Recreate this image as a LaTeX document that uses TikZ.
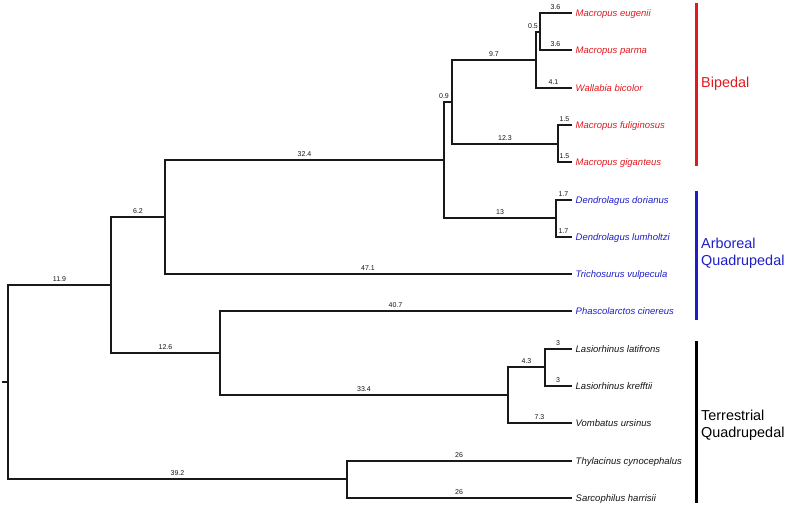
\documentclass[tikz,border=0pt]{standalone}
\usepackage{fontspec}
\setmainfont{Liberation Sans}
\definecolor{bred}{RGB}{225,25,30}
\definecolor{bblue}{RGB}{30,30,200}
\definecolor{tdark}{RGB}{20,20,20}
\tikzset{
  br/.style={line width=2pt, black!90, line cap=rect},
  bl/.style={font=\fontsize{7}{8}\selectfont, text=tdark, inner sep=0.5pt, above=2pt},
  leaf/.style={anchor=base west, xshift=4.5pt, yshift=-3.4pt, inner sep=0pt, font=\fontsize{9.5}{11}\selectfont\itshape},
  grp/.style={anchor=west, align=left, inner sep=0pt, font=\fontsize{14.4}{17}\selectfont},
  bar/.style={line width=3pt}
}
\begin{document}
\begin{tikzpicture}[x=1pt,y=-1pt]
\useasboundingbox (0,0) rectangle (787,507);
% internal nodes
\coordinate (rs) at (3,382);
\coordinate (root) at (8,382);
\coordinate (A) at (111,285);
\coordinate (B) at (165,217);
\coordinate (C) at (444,160);
\coordinate (D) at (452,102);
\coordinate (E) at (536,60);
\coordinate (F) at (540,32);
\coordinate (G) at (558,144);
\coordinate (H) at (556,218);
\coordinate (K) at (220,353);
\coordinate (J) at (508,395);
\coordinate (I) at (545,367);
\coordinate (L) at (347,479);
% leaf tips
\coordinate (t1) at (571,13);
\coordinate (t2) at (571,50);
\coordinate (t3) at (571,88);
\coordinate (t4) at (571,125);
\coordinate (t5) at (571,162);
\coordinate (t6) at (571,200);
\coordinate (t7) at (571,237);
\coordinate (t8) at (571,274);
\coordinate (t9) at (571,311);
\coordinate (t10) at (571,349);
\coordinate (t11) at (571,386);
\coordinate (t12) at (571,423);
\coordinate (t13) at (571,461);
\coordinate (t14) at (571,498);
% leaf labels
\node[leaf, text=bred] (l1) at (t1) {Macropus eugenii};
\node[leaf, text=bred] (l2) at (t2) {Macropus parma};
\node[leaf, text=bred] (l3) at (t3) {Wallabia bicolor};
\node[leaf, text=bred] (l4) at (t4) {Macropus fuliginosus};
\node[leaf, text=bred] (l5) at (t5) {Macropus giganteus};
\node[leaf, text=bblue] (l6) at (t6) {Dendrolagus dorianus};
\node[leaf, text=bblue] (l7) at (t7) {Dendrolagus lumholtzi};
\node[leaf, text=bblue] (l8) at (t8) {Trichosurus vulpecula};
\node[leaf, text=bblue] (l9) at (t9) {Phascolarctos cinereus};
\node[leaf, text=tdark] (l10) at (t10) {Lasiorhinus latifrons};
\node[leaf, text=tdark] (l11) at (t11) {Lasiorhinus krefftii};
\node[leaf, text=tdark] (l12) at (t12) {Vombatus ursinus};
\node[leaf, text=tdark] (l13) at (t13) {Thylacinus cynocephalus};
\node[leaf, text=tdark] (l14) at (t14) {Sarcophilus harrisii};
% branches
\draw[br] (rs) -- (root);
\draw[br] (root) |- node[bl, pos=0.75] {11.9} (A);
\draw[br] (root) |- node[bl, pos=0.75] {39.2} (L);
\draw[br] (A) |- node[bl, pos=0.75] {6.2} (B);
\draw[br] (A) |- node[bl, pos=0.75] {12.6} (K);
\draw[br] (B) |- node[bl, pos=0.75] {32.4} (C);
\draw[br] (B) |- node[bl, pos=0.75] {47.1} (t8);
\draw[br] (C) |- node[bl, pos=0.75, xshift=-4pt] {0.9} (D);
\draw[br] (C) |- node[bl, pos=0.75] {13} (H);
\draw[br] (D) |- node[bl, pos=0.75] {9.7} (E);
\draw[br] (D) |- node[bl, pos=0.75] {12.3} (G);
\draw[br] (E) |- node[bl, pos=0.75, xshift=-5pt] {0.5} (F);
\draw[br] (E) |- node[bl, pos=0.75] {4.1} (t3);
\draw[br] (F) |- node[bl, pos=0.75] {3.6} (t1);
\draw[br] (F) |- node[bl, pos=0.75] {3.6} (t2);
\draw[br] (G) |- node[bl, pos=0.75] {1.5} (t4);
\draw[br] (G) |- node[bl, pos=0.75] {1.5} (t5);
\draw[br] (H) |- node[bl, pos=0.75] {1.7} (t6);
\draw[br] (H) |- node[bl, pos=0.75] {1.7} (t7);
\draw[br] (K) |- node[bl, pos=0.75] {40.7} (t9);
\draw[br] (K) |- node[bl, pos=0.75] {33.4} (J);
\draw[br] (J) |- node[bl, pos=0.75] {4.3} (I);
\draw[br] (J) |- node[bl, pos=0.75] {7.3} (t12);
\draw[br] (I) |- node[bl, pos=0.75] {3} (t10);
\draw[br] (I) |- node[bl, pos=0.75] {3} (t11);
\draw[br] (L) |- node[bl, pos=0.75] {26} (t13);
\draw[br] (L) |- node[bl, pos=0.75] {26} (t14);
% group bars
\coordinate (r1) at (696.5,3);
\coordinate (r2) at (696.5,166);
\coordinate (b1) at (696.5,191);
\coordinate (b2) at (696.5,320);
\coordinate (k1) at (696.5,341);
\coordinate (k2) at (696.5,503);
\draw[bar, bred] (r1) -- (r2);
\draw[bar, bblue] (b1) -- (b2);
\draw[bar, black] (k1) -- (k2);
\node[grp, text=bred] (g1) at (701,83.3) {Bipedal};
\node[grp, text=bblue] (g2) at (701,253.3) {Arboreal\\Quadrupedal};
\node[grp, text=black] (g3) at (701,425.5) {Terrestrial\\Quadrupedal};
\end{tikzpicture}
\end{document}
